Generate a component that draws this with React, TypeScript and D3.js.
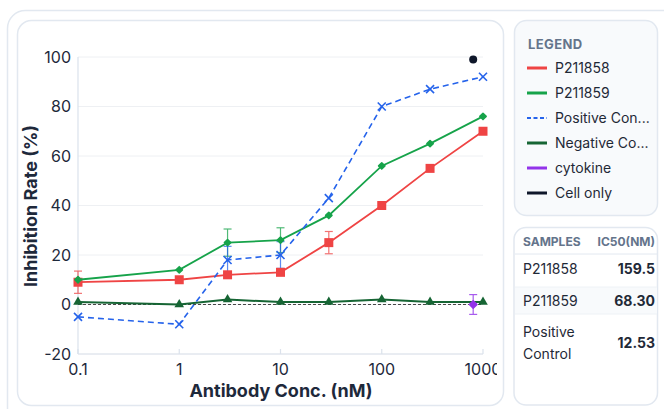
import React from "react";
import * as d3 from "d3";

const concentrations = [0.1, 1, 3, 10, 30, 100, 300, 1000];
const p211858 = [9, 10, 12, 13, 25, 40, 55, 70];
const p211858Err = [4.5, 0, 0, 1, 4.5, 0, 0, 0];
const p211859 = [10, 14, 25, 26, 36, 56, 65, 76];
const p211859Err = [0, 0, 5.5, 5, 0, 0, 0, 0];
const positiveControl = [-5, -8, 18, 20, 43, 80, 87, 92];
const positiveErr = [0, 0, 5.5, 5.4, 0, 0, 0, 0];
const negativeControl = [1, 0, 2, 1, 1, 2, 1, 1];
const cytokine = [{ x: 800, y: 0, err: 4 }];
const cellOnly = [{ x: 800, y: 99 }];

const xTicks = [0.1, 1, 10, 100, 1000];
const yTicks = [-20, 0, 20, 40, 60, 80, 100];

const legendItems = [
  { label: "P211858", color: "#ef4444", dashed: false },
  { label: "P211859", color: "#16a34a", dashed: false },
  { label: "Positive Con...", color: "#2563eb", dashed: true },
  { label: "Negative Co...", color: "#166534", dashed: false },
  { label: "cytokine", color: "#9333ea", dashed: false },
  { label: "Cell only", color: "#0f172a", dashed: false },
];

const ic50Rows = [
  { sample: ["P211858"], value: "159.5" },
  { sample: ["P211859"], value: "68.30" },
  { sample: ["Positive", "Control"], value: "12.53" },
];

const FONT = "Inter, 'Noto Sans', sans-serif";

export default function App() {
  const x = d3.scaleLog().domain([0.1, 1000]).range([78, 483]);
  const y = d3.scaleLinear().domain([-20, 100]).range([354, 57]);
  const line = d3
    .line<[number, number]>()
    .x((d) => x(d[0]))
    .y((d) => y(d[1]));

  const pts = (vals: number[]) =>
    concentrations.map((c, i) => [c, vals[i]] as [number, number]);

  const errorBars = (vals: number[], errs: number[], color: string, key: string) =>
    concentrations.map((c, i) =>
      errs[i] > 0 ? (
        <g key={`${key}-e${i}`} stroke={color} strokeWidth={1.2} opacity={0.75}>
          <line x1={x(c)} x2={x(c)} y1={y(vals[i] + errs[i])} y2={y(vals[i] - errs[i])} />
          <line x1={x(c) - 4} x2={x(c) + 4} y1={y(vals[i] + errs[i])} y2={y(vals[i] + errs[i])} />
          <line x1={x(c) - 4} x2={x(c) + 4} y1={y(vals[i] - errs[i])} y2={y(vals[i] - errs[i])} />
        </g>
      ) : null
    );

  const tri = d3.symbol().type(d3.symbolTriangle).size(40)();
  const diamond = d3.symbol().type(d3.symbolDiamond2).size(26)();

  return (
    <div style={{ position: "fixed", left: 0, top: 0 }}>
      <svg width={664} height={409} style={{ display: "block", fontFamily: FONT }}>
        <defs>
          <clipPath id="chartClip">
            <rect x={17} y={20} width={480} height={386} />
          </clipPath>
        </defs>
        <rect x={0} y={0} width={664} height={409} fill="#ffffff" />
        {/* outer container */}
        <rect x={7.5} y={10.5} width={680} height={420} rx={18} fill="#ffffff" stroke="#e2e8f0" strokeWidth={1.5} />
        {/* chart card */}
        <rect x={17.5} y={20.5} width={486} height={385} rx={14} fill="#ffffff" stroke="#e2e8f0" strokeWidth={1.5} />

        <g clipPath="url(#chartClip)">
          {/* grid */}
          {yTicks.map((t) => (
            <line key={`g${t}`} x1={78} x2={483} y1={y(t)} y2={y(t)} stroke="#eef0f3" strokeWidth={1} />
          ))}
          {/* axes */}
          <line x1={78} x2={78} y1={57} y2={354} stroke="#dbe2ec" strokeWidth={1.2} />
          <line x1={78} x2={483} y1={354} y2={354} stroke="#dbe2ec" strokeWidth={1.2} />
          {xTicks.map((t) => (
            <line key={`xt${t}`} x1={x(t)} x2={x(t)} y1={349} y2={354} stroke="#dbe2ec" strokeWidth={1.2} />
          ))}
          {yTicks.map((t) => (
            <text key={`yl${t}`} x={71} y={y(t)} dy="0.35em" textAnchor="end" fontSize={16} fill="#1e293b">
              {t}
            </text>
          ))}
          {xTicks.map((t) => (
            <text key={`xl${t}`} x={x(t)} y={369} dy="0.35em" textAnchor="middle" fontSize={16} fill="#1e293b">
              {t}
            </text>
          ))}
          <text x={281} y={391} dy="0.35em" textAnchor="middle" fontSize={18} fontWeight={700} fill="#1e293b">
            Antibody Conc. (nM)
          </text>
          <text
            transform={`translate(31,206) rotate(-90)`}
            textAnchor="middle"
            dy="0.35em"
            fontSize={18}
            fontWeight={700}
            fill="#1e293b"
          >
            Inhibition Rate (%)
          </text>

          {/* zero reference */}
          <line x1={78} x2={483} y1={y(0)} y2={y(0)} stroke="#333" strokeWidth={0.9} strokeDasharray="3,2" />

          {/* negative control */}
          <path d={line(pts(negativeControl)) || ""} fill="none" stroke="#166534" strokeWidth={2} />
          {pts(negativeControl).map((d, i) => (
            <path key={`n${i}`} d={tri || ""} transform={`translate(${x(d[0])},${y(d[1])})`} fill="#166534" />
          ))}

          {/* error bars */}
          {errorBars(p211858, p211858Err, "#ef4444", "r")}
          {errorBars(p211859, p211859Err, "#16a34a", "g")}
          {errorBars(positiveControl, positiveErr, "#2563eb", "b")}

          {/* P211858 */}
          <path d={line(pts(p211858)) || ""} fill="none" stroke="#ef4444" strokeWidth={1.8} />
          {pts(p211858).map((d, i) => (
            <rect key={`r${i}`} x={x(d[0]) - 4.5} y={y(d[1]) - 4.5} width={9} height={9} fill="#ef4444" />
          ))}

          {/* P211859 */}
          <path d={line(pts(p211859)) || ""} fill="none" stroke="#16a34a" strokeWidth={1.8} />
          {pts(p211859).map((d, i) => (
            <path
              key={`d${i}`}
              d={diamond || ""}
              transform={`translate(${x(d[0])},${y(d[1])})`}
              fill="#16a34a"
              stroke="#16a34a"
              strokeWidth={1.5}
              strokeLinejoin="round"
            />
          ))}

          {/* positive control */}
          <path
            d={line(pts(positiveControl)) || ""}
            fill="none"
            stroke="#2563eb"
            strokeWidth={1.6}
            strokeDasharray="6,4"
          />
          {pts(positiveControl).map((d, i) => (
            <g key={`x${i}`} transform={`translate(${x(d[0])},${y(d[1])})`} stroke="#2563eb" strokeWidth={1.6}>
              <line x1={-4} y1={-4} x2={4} y2={4} />
              <line x1={-4} y1={4} x2={4} y2={-4} />
            </g>
          ))}

          {/* cytokine */}
          {cytokine.map((d, i) => (
            <g key={`c${i}`}>
              <g stroke="#9333ea" strokeWidth={1.2} opacity={0.8}>
                <line x1={x(d.x)} x2={x(d.x)} y1={y(d.y + d.err)} y2={y(d.y - d.err)} />
                <line x1={x(d.x) - 4} x2={x(d.x) + 4} y1={y(d.y + d.err)} y2={y(d.y + d.err)} />
                <line x1={x(d.x) - 4} x2={x(d.x) + 4} y1={y(d.y - d.err)} y2={y(d.y - d.err)} />
              </g>
              <path
                d={diamond || ""}
                transform={`translate(${x(d.x)},${y(d.y)}) scale(1.2)`}
                fill="#9333ea"
                stroke="#9333ea"
                strokeWidth={1.2}
                strokeLinejoin="round"
              />
            </g>
          ))}

          {/* cell only */}
          {cellOnly.map((d, i) => (
            <circle key={`k${i}`} cx={x(d.x)} cy={y(d.y)} r={4} fill="#0f172a" />
          ))}
        </g>

        {/* legend card */}
        <rect x={514.5} y={20.5} width={143} height={195} rx={12} fill="#f8fafc" stroke="#e2e8f0" strokeWidth={1.5} />
        <text x={528} y={44} dy="0.35em" fontSize={13} fontWeight={700} fill="#64748b" letterSpacing={0.4}>
          LEGEND
        </text>
        {legendItems.map((item, i) => {
          const cy = 68 + i * 25;
          return (
            <g key={item.label}>
              <line
                x1={527}
                x2={547}
                y1={cy}
                y2={cy}
                stroke={item.color}
                strokeWidth={item.dashed ? 2 : 3}
                strokeDasharray={item.dashed ? "4,2.5" : undefined}
              />
              <text x={555} y={cy} dy="0.35em" fontSize={14} fill="#1f2937">
                {item.label}
              </text>
            </g>
          );
        })}

        {/* IC50 table card */}
        <rect x={514} y={227.5} width={143.5} height={177.5} rx={12} fill="#ffffff" stroke="#e2e8f0" strokeWidth={1.5} />
        <text x={523} y={242} dy="0.35em" fontSize={12} fontWeight={700} fill="#64748b">
          SAMPLES
        </text>
        <text x={655} y={242} dy="0.35em" textAnchor="end" fontSize={12} fontWeight={700} fill="#64748b">
          IC50(NM)
        </text>
        <line x1={515} x2={657} y1={254} y2={254} stroke="#e2e8f0" strokeWidth={1} />
        <rect x={515} y={287} width={142} height={27} fill="#f8fafc" />
        <line x1={515} x2={657} y1={287} y2={287} stroke="#eef2f6" strokeWidth={1} />
        <line x1={515} x2={657} y1={314} y2={314} stroke="#eef2f6" strokeWidth={1} />
        {ic50Rows.map((row, i) => {
          const centers = [269, 301, 343];
          const cy = centers[i];
          return (
            <g key={row.value}>
              {row.sample.length === 1 ? (
                <text x={523} y={cy} dy="0.35em" fontSize={14} fill="#1f2937">
                  {row.sample[0]}
                </text>
              ) : (
                row.sample.map((s, j) => (
                  <text key={s} x={523} y={cy - 11 + j * 22} dy="0.35em" fontSize={14} fill="#1f2937">
                    {s}
                  </text>
                ))
              )}
              <text x={655} y={cy} dy="0.35em" textAnchor="end" fontSize={14} fontWeight={700} fill="#1f2937">
                {row.value}
              </text>
            </g>
          );
        })}
      </svg>
    </div>
  );
}
